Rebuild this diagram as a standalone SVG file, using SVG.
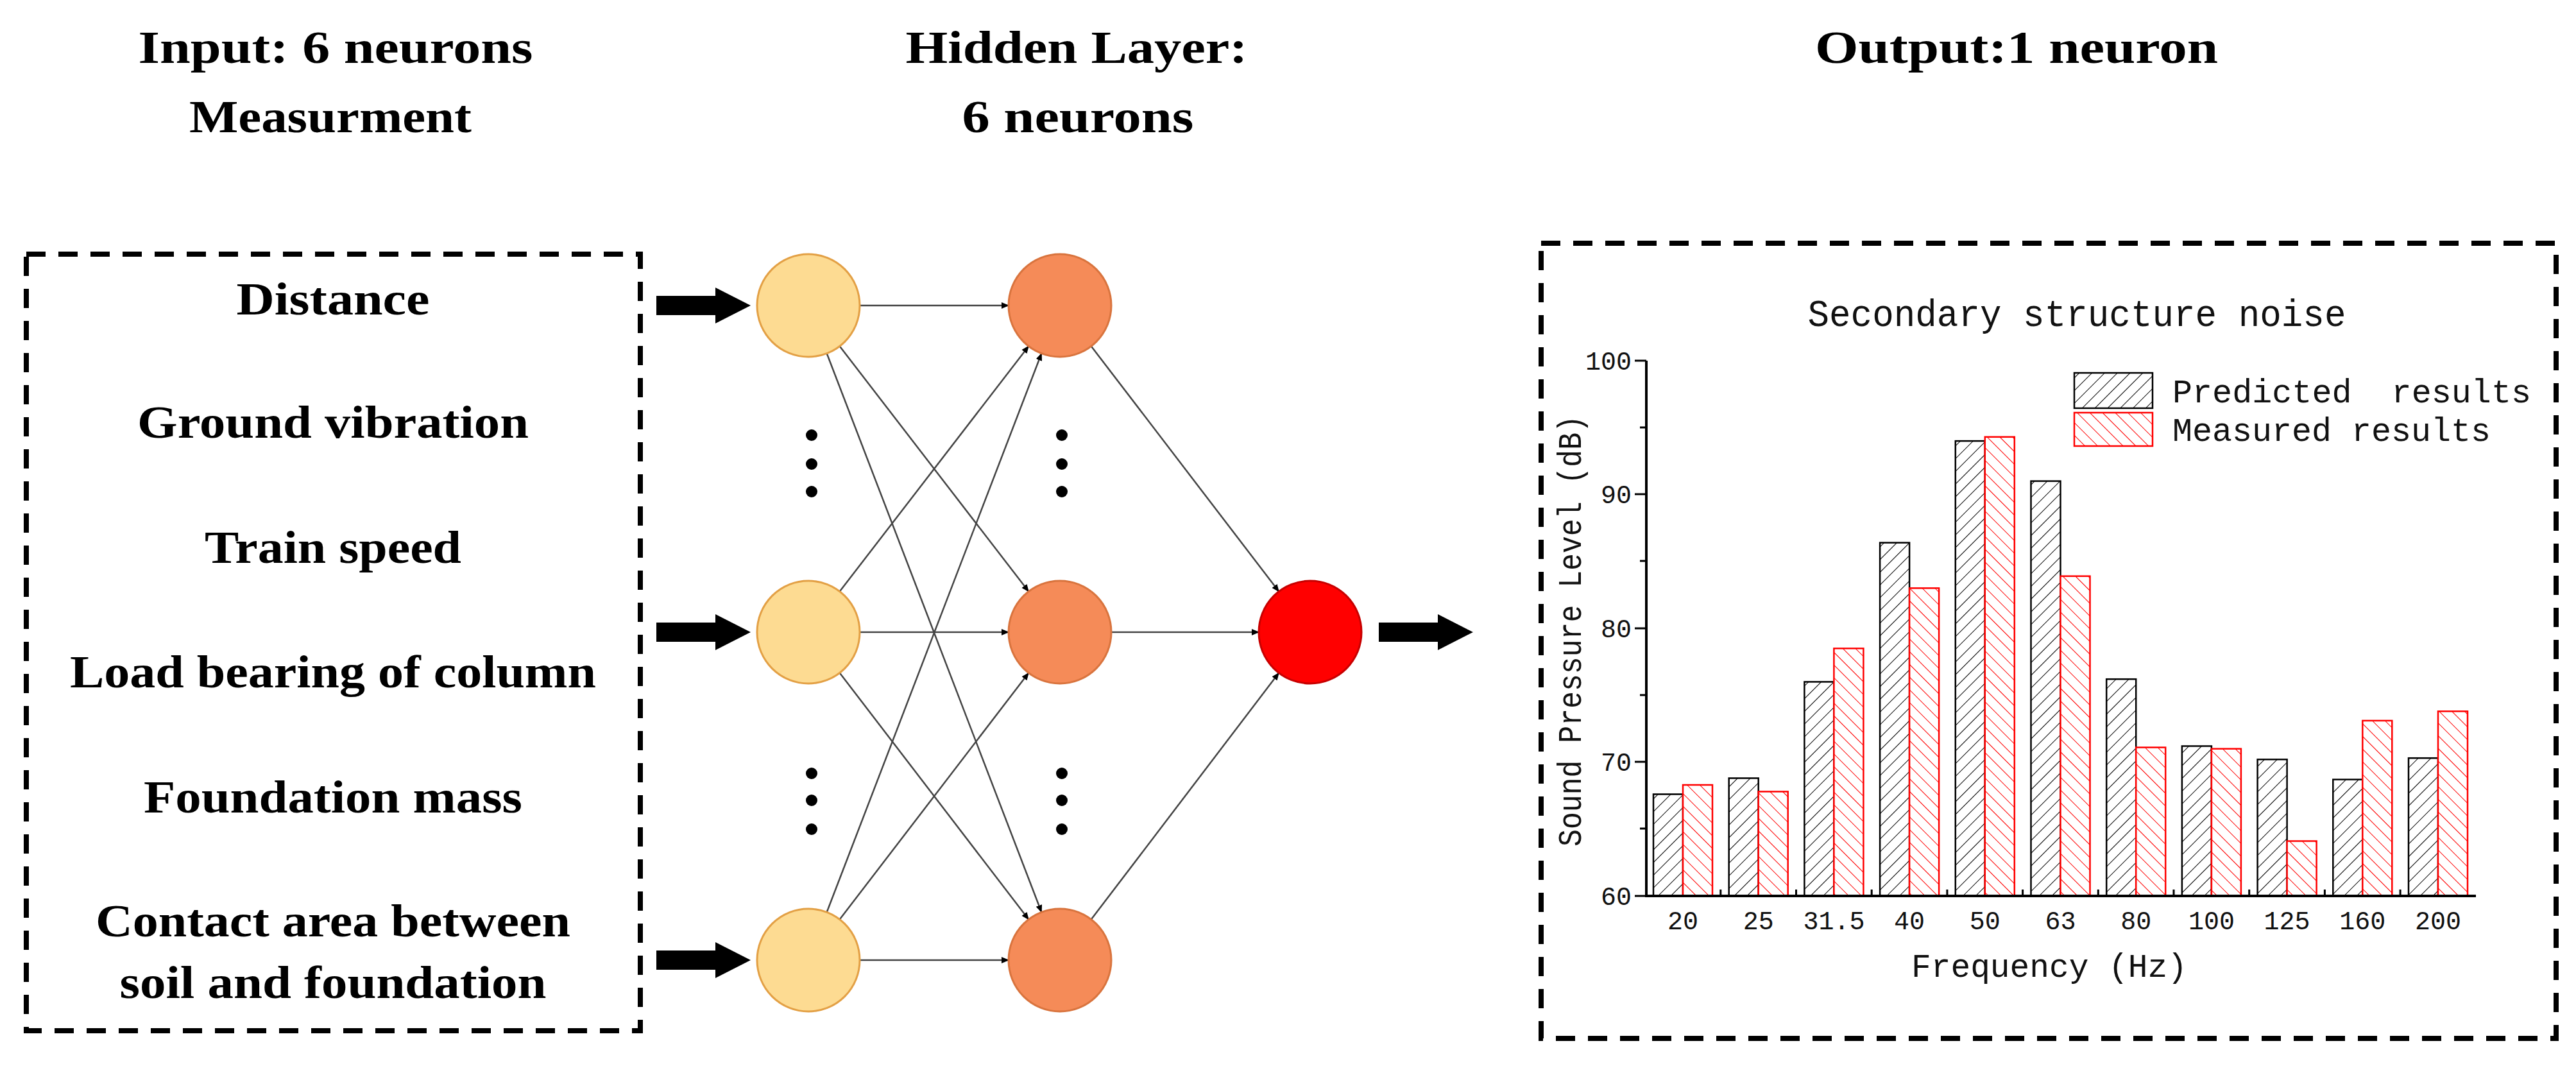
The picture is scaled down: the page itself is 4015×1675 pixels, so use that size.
<svg xmlns="http://www.w3.org/2000/svg" width="4015" height="1675" viewBox="0 0 4015 1675">
<style>
.t{font-family:"Liberation Serif",serif;font-weight:bold;font-size:72px;fill:#000;text-anchor:middle}
.m{font-family:"Liberation Mono",monospace;fill:#111}
.box{fill:none;stroke:#000;stroke-width:8;stroke-dasharray:30 20}
.in{fill:#FDDB92;stroke:#E3A045;stroke-width:3}
.hid{fill:#F58B58;stroke:#D9743E;stroke-width:3}
.out{fill:#FF0000;stroke:#C80000;stroke-width:3}
.e{stroke:#444;stroke-width:2.5;fill:none;marker-end:url(#ah)}
.pb{fill:url(#hp);stroke:#000;stroke-width:2.5}
.mb{fill:url(#hm);stroke:#F00;stroke-width:2.5}
.ax{stroke:#000;stroke-width:4;fill:none}
</style>
<defs>
<marker id="ah" markerWidth="12" markerHeight="12" refX="11" refY="6" orient="auto" markerUnits="userSpaceOnUse" viewBox="0 0 12 12"><path d="M0,1 L12,6 L0,11 z" fill="#000"/></marker>
<pattern id="hp" width="14" height="14" patternUnits="userSpaceOnUse" patternTransform="rotate(45)"><rect width="14" height="14" fill="#fff"/><line x1="0" y1="0" x2="0" y2="14" stroke="#000" stroke-width="2"/></pattern>
<pattern id="hm" width="14" height="14" patternUnits="userSpaceOnUse" patternTransform="rotate(-45)"><rect width="14" height="14" fill="#fff"/><line x1="0" y1="0" x2="0" y2="14" stroke="#F00" stroke-width="2"/></pattern>
<path id="fat" d="M0,-15 L92,-15 L92,-28 L147,0 L92,28 L92,15 L0,15 z" fill="#000"/>
</defs>
<rect width="4015" height="1675" fill="#fff"/>

<g id="titles">
<text class="t" x="523" y="98" textLength="615" lengthAdjust="spacingAndGlyphs">Input: 6 neurons</text>
<text class="t" x="515" y="206" textLength="440" lengthAdjust="spacingAndGlyphs">Measurment</text>
<text class="t" x="1678" y="98" textLength="533" lengthAdjust="spacingAndGlyphs">Hidden Layer:</text>
<text class="t" x="1680" y="206" textLength="361" lengthAdjust="spacingAndGlyphs">6 neurons</text>
<text class="t" x="3143" y="98" textLength="628" lengthAdjust="spacingAndGlyphs">Output:1 neuron</text>
</g>

<g id="inputs-box">
<rect class="box" x="41" y="396" width="957" height="1210"/>
<text class="t" x="519" y="490" textLength="301" lengthAdjust="spacingAndGlyphs">Distance</text>
<text class="t" x="519" y="682" textLength="610" lengthAdjust="spacingAndGlyphs">Ground vibration</text>
<text class="t" x="519" y="877" textLength="400" lengthAdjust="spacingAndGlyphs">Train speed</text>
<text class="t" x="519" y="1071" textLength="820" lengthAdjust="spacingAndGlyphs">Load bearing of column</text>
<text class="t" x="519" y="1266" textLength="590" lengthAdjust="spacingAndGlyphs">Foundation mass</text>
<text class="t" x="519" y="1459" textLength="740" lengthAdjust="spacingAndGlyphs">Contact area between</text>
<text class="t" x="519" y="1555" textLength="665" lengthAdjust="spacingAndGlyphs">soil and foundation</text>
</g>

<g id="connectors">
<use href="#fat" x="1023" y="476"/>
<use href="#fat" x="1023" y="985"/>
<use href="#fat" x="1023" y="1496"/>
<use href="#fat" x="2149" y="985"/>
<line class="e" x1="1340" y1="476" x2="1572" y2="476"/>
<line class="e" x1="1308.8" y1="539.4" x2="1603.2" y2="921.6"/>
<line class="e" x1="1288.7" y1="550.7" x2="1623.3" y2="1421.3"/>
<line class="e" x1="1308.8" y1="921.6" x2="1603.2" y2="539.4"/>
<line class="e" x1="1340" y1="985" x2="1572" y2="985"/>
<line class="e" x1="1308.8" y1="1048.4" x2="1603.2" y2="1432.6"/>
<line class="e" x1="1288.7" y1="1421.3" x2="1623.3" y2="550.7"/>
<line class="e" x1="1308.8" y1="1432.6" x2="1603.2" y2="1048.6"/>
<line class="e" x1="1340" y1="1496" x2="1572" y2="1496"/>
<line class="e" x1="1700.8" y1="539.4" x2="1993.2" y2="921.6"/>
<line class="e" x1="1732" y1="985" x2="1962" y2="985"/>
<line class="e" x1="1700.8" y1="1432.6" x2="1993.2" y2="1048.6"/>
</g>

<g id="input-nodes">
<circle class="in" cx="1260" cy="476" r="80"/>
<circle class="in" cx="1260" cy="985" r="80"/>
<circle class="in" cx="1260" cy="1496" r="80"/>
<g fill="#000"><circle cx="1265" cy="678" r="9"/><circle cx="1265" cy="723" r="9"/><circle cx="1265" cy="766" r="9"/><circle cx="1265" cy="1205" r="9"/><circle cx="1265" cy="1247" r="9"/><circle cx="1265" cy="1292" r="9"/></g>
</g>
<g id="hidden-nodes">
<circle class="hid" cx="1652" cy="476" r="80"/>
<circle class="hid" cx="1652" cy="985" r="80"/>
<circle class="hid" cx="1652" cy="1496" r="80"/>
<g fill="#000"><circle cx="1655" cy="678" r="9"/><circle cx="1655" cy="723" r="9"/><circle cx="1655" cy="766" r="9"/><circle cx="1655" cy="1205" r="9"/><circle cx="1655" cy="1247" r="9"/><circle cx="1655" cy="1292" r="9"/></g>
</g>
<g id="output-node">
<circle class="out" cx="2042" cy="985" r="80"/>
</g>

<g id="chart">
<rect class="box" x="2402" y="379" width="1582" height="1239"/>
<text class="m" x="3237" y="508" font-size="60" text-anchor="middle" textLength="839" lengthAdjust="spacingAndGlyphs">Secondary structure noise</text>
<g>
<rect class="pb" x="2577" y="1237.5" width="46" height="158.5"/><rect class="mb" x="2623" y="1223" width="46" height="173"/>
<rect class="pb" x="2694.7" y="1212.5" width="46" height="183.5"/><rect class="mb" x="2740.7" y="1233.4" width="46" height="162.6"/>
<rect class="pb" x="2812.4" y="1062.4" width="46" height="333.6"/><rect class="mb" x="2858.4" y="1010.3" width="46" height="385.7"/>
<rect class="pb" x="2930.1" y="845.6" width="46" height="550.4"/><rect class="mb" x="2976.1" y="916.4" width="46" height="479.6"/>
<rect class="pb" x="3047.8" y="687.1" width="46" height="708.9"/><rect class="mb" x="3093.8" y="680.8" width="46" height="715.2"/>
<rect class="pb" x="3165.5" y="749.6" width="46" height="646.4"/><rect class="mb" x="3211.5" y="897.7" width="46" height="498.3"/>
<rect class="pb" x="3283.2" y="1058.2" width="46" height="337.8"/><rect class="mb" x="3329.2" y="1164.6" width="46" height="231.4"/>
<rect class="pb" x="3400.9" y="1162.5" width="46" height="233.5"/><rect class="mb" x="3446.9" y="1166.7" width="46" height="229.3"/>
<rect class="pb" x="3518.6" y="1183.3" width="46" height="212.7"/><rect class="mb" x="3564.6" y="1310.5" width="46" height="85.5"/>
<rect class="pb" x="3636.3" y="1214.6" width="46" height="181.4"/><rect class="mb" x="3682.3" y="1122.9" width="46" height="273.1"/>
<rect class="pb" x="3754" y="1181.2" width="46" height="214.8"/><rect class="mb" x="3800" y="1108.3" width="46" height="287.7"/>
</g>
<path class="ax" d="M2566,562 V1396 H3859"/>
<path stroke="#000" stroke-width="3" d="M2566,562 h-18 M2566,770 h-18 M2566,979 h-18 M2566,1187 h-18 M2566,1396 h-18 M2566,666 h-10 M2566,874 h-10 M2566,1083 h-10 M2566,1291 h-10 M2681.8,1396 v-10 M2799.5,1396 v-10 M2917.2,1396 v-10 M3034.9,1396 v-10 M3152.6,1396 v-10 M3270.3,1396 v-10 M3388,1396 v-10 M3505.7,1396 v-10 M3623.4,1396 v-10 M3741.1,1396 v-10"/>
<g class="m" font-size="40" text-anchor="end">
<text x="2543" y="576">100</text><text x="2543" y="784">90</text><text x="2543" y="993">80</text><text x="2543" y="1201">70</text><text x="2543" y="1410">60</text>
</g>
<g class="m" font-size="40" text-anchor="middle">
<text x="2623" y="1448">20</text><text x="2740.7" y="1448">25</text><text x="2858.4" y="1448">31.5</text><text x="2976.1" y="1448">40</text><text x="3093.8" y="1448">50</text><text x="3211.5" y="1448">63</text><text x="3329.2" y="1448">80</text><text x="3446.9" y="1448">100</text><text x="3564.6" y="1448">125</text><text x="3682.3" y="1448">160</text><text x="3800" y="1448">200</text>
</g>
<text class="m" x="3194" y="1522" font-size="52" text-anchor="middle" textLength="430" lengthAdjust="spacingAndGlyphs">Frequency (Hz)</text>
<text class="m" transform="translate(2464,983) rotate(-90)" font-size="52" text-anchor="middle" textLength="672" lengthAdjust="spacingAndGlyphs">Sound Pressure Level (dB)</text>
<rect class="pb" x="3233" y="581" width="122" height="55"/>
<rect class="mb" x="3233" y="643" width="122" height="52"/>
<text class="m" x="3386" y="627" font-size="52" textLength="559" lengthAdjust="spacingAndGlyphs" xml:space="preserve">Predicted  results</text>
<text class="m" x="3386" y="687" font-size="52" textLength="496" lengthAdjust="spacingAndGlyphs">Measured results</text>
</g>
</svg>
